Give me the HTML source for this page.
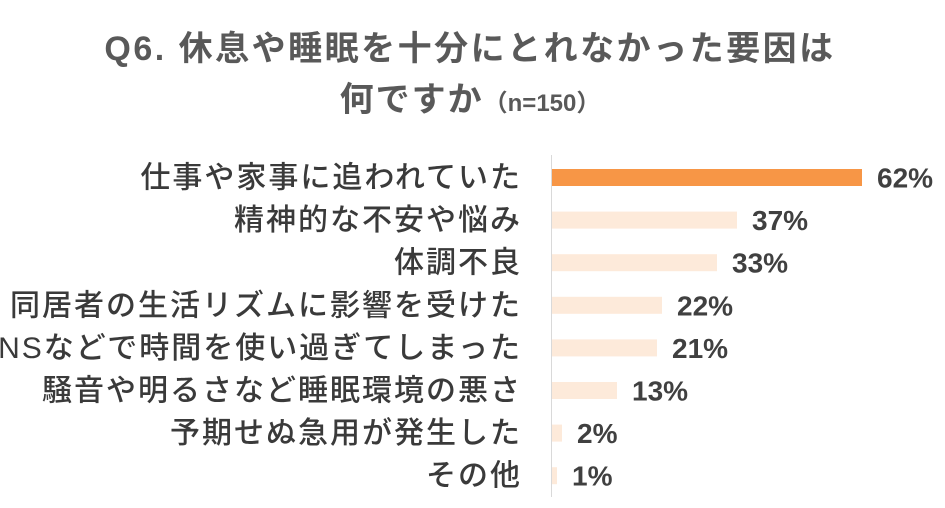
<!DOCTYPE html>
<html><head><meta charset="utf-8"><style>
body{margin:0;background:#fff;width:945px;height:503px;overflow:hidden;font-family:"Liberation Sans","Noto Sans CJK JP",sans-serif;}
</style></head><body>
<svg id="chart" width="945" height="503" xmlns="http://www.w3.org/2000/svg">
<text x="470" y="60" text-anchor="middle" font-size="34" font-weight="bold" letter-spacing="2.5" fill="#595959" font-family="Liberation Sans, Noto Sans CJK JP, sans-serif">Q6. 休息や睡眠を十分にとれなかった要因は</text>
<text x="470" y="111" text-anchor="middle" font-size="34" font-weight="bold" letter-spacing="2" fill="#595959" font-family="Liberation Sans, Noto Sans CJK JP, sans-serif">何ですか<tspan font-size="24" letter-spacing="0">（n=150）</tspan></text>
<line x1="551.5" y1="155" x2="551.5" y2="497" stroke="#d9d9d9" stroke-width="1"/>
<g id="bars"></g>
</svg>
<script>
const categories=["仕事や家事に追われていた","精神的な不安や悩み","体調不良","同居者の生活リズムに影響を受けた","SNSなどで時間を使い過ぎてしまった","騒音や明るさなど睡眠環境の悪さ","予期せぬ急用が発生した","その他"];
const values=[62,37,33,22,21,13,2,1];
const valueLabels=["62%","37%","33%","22%","21%","13%","2%","1%"];
const x0=552,scale=5.0,y0=177.5,step=42.6,bh=17;
const xs=v=>x0+v*scale, ys=i=>y0+i*step;
const g=document.getElementById('bars');
const ns="http://www.w3.org/2000/svg";
categories.forEach((c,i)=>{
  const y=ys(i);
  const r=document.createElementNS(ns,'rect');
  
  
  r.setAttribute('x',x0);r.setAttribute('y',y-bh/2);
  r.setAttribute('width',xs(values[i])-x0);r.setAttribute('height',bh);
  r.setAttribute('fill',i===0?'#F79646':'#FDEADA');
  g.appendChild(r);
  const t=document.createElementNS(ns,'text');
  
  
  t.setAttribute('x',522);t.setAttribute('y',y+10);
  t.setAttribute('text-anchor','end');t.setAttribute('font-size','30');
  t.setAttribute('letter-spacing','2');
  t.setAttribute('font-weight','500');
  t.setAttribute('fill','#3a3a3a');
  t.textContent=c;g.appendChild(t);
  const v=document.createElementNS(ns,'text');
  
  
  v.setAttribute('x',xs(values[i])+15);v.setAttribute('y',y+10);
  v.setAttribute('font-size','28');v.setAttribute('font-weight','bold');
  v.setAttribute('fill','#404040');
  v.textContent=valueLabels[i];g.appendChild(v);
});
</script>
</body></html>
